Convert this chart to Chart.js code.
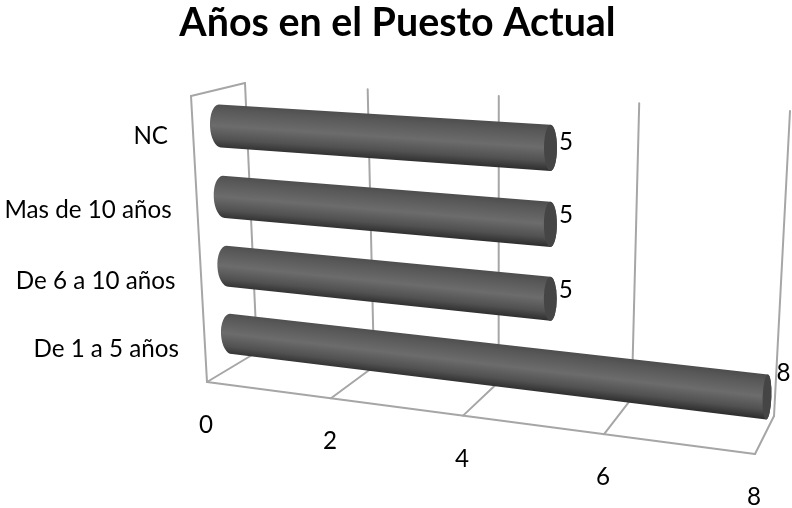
<!DOCTYPE html>
<html lang="es">
<head>
<meta charset="utf-8">
<title>Años en el Puesto Actual</title>
<script src="https://cdn.jsdelivr.net/npm/chart.js@4"></script>
<style>
  html, body { margin: 0; padding: 0; background: #fff; }
  canvas { display: block; }
</style>
</head>
<body>
<canvas id="chart" width="792" height="508"></canvas>
<script>
// Chart content
const titleText = 'Años en el Puesto Actual';
const categories = ['NC', 'Mas de 10 años', 'De 6 a 10 años', 'De 1 a 5 años'];
const values = [5, 5, 5, 8];
const axisMin = 0;
const axisMax = 8;
const axisStep = 2;

const FONT = 'Lato, "Open Sans", sans-serif';
const LABEL_FONT = '24.2px ' + FONT;
const LINE = '#a6a6a6';

// Homography from the unit square to a quad [p00, p10, p11, p01]
function quadMap(p00, p10, p11, p01) {
  const dx1 = p10[0] - p11[0], dx2 = p01[0] - p11[0], sx = p00[0] - p10[0] + p11[0] - p01[0];
  const dy1 = p10[1] - p11[1], dy2 = p01[1] - p11[1], sy = p00[1] - p10[1] + p11[1] - p01[1];
  const det = dx1 * dy2 - dx2 * dy1;
  const g = (sx * dy2 - dx2 * sy) / det;
  const h = (dx1 * sy - sx * dy1) / det;
  const a = p10[0] - p00[0] + g * p10[0], b = p01[0] - p00[0] + h * p01[0], c = p00[0];
  const d = p10[1] - p00[1] + g * p10[1], e = p01[1] - p00[1] + h * p01[1], f = p00[1];
  return (u, v) => {
    const w = g * u + h * v + 1;
    return [(a * u + b * v + c) / w, (d * u + e * v + f) / w];
  };
}

// The box the bars sit in: back wall, and the plane through the bar axes
const backWall = quadMap([245, 83], [790, 111], [774, 416], [257, 352]);
const barPlane = quadMap([220, 126], [776, 163], [767, 397], [231, 334]);
const frontTopCorner = [191, 96];

// Front edge of the floor, foreshortened towards the left
const frontLeft = [207, 382], frontRight = [755, 454], frontForeshortening = 1.14;
function frontEdge(u) {
  const f = u / (u + (1 - u) * frontForeshortening);
  return [frontLeft[0] + (frontRight[0] - frontLeft[0]) * f, frontLeft[1] + (frontRight[1] - frontLeft[1]) * f];
}

function stroke(ctx, a, b) {
  ctx.beginPath();
  ctx.moveTo(a[0], a[1]);
  ctx.lineTo(b[0], b[1]);
  ctx.stroke();
}

// Maps library pixels into the bar plane; categories run from the first centre to the last
function barPoint(chart, px, py) {
  const area = chart.chartArea;
  const u = (px - area.left) / area.width;
  const n = chart.data.labels.length;
  const v = ((py - area.top) / area.height - 0.5 / n) / ((n - 1) / n);
  return barPlane(u, v);
}

const box3d = {
  id: 'box3d',
  beforeDatasetsDraw(chart, args, opts) {
    const { ctx, chartArea: area, scales: { x, y } } = chart;
    ctx.save();
    ctx.strokeStyle = LINE;
    ctx.lineWidth = 2;
    ctx.lineCap = 'round';
    ctx.lineJoin = 'round';

    // Grid lines up the back wall and across the floor
    x.ticks.forEach(t => {
      const u = (x.getPixelForValue(t.value) - area.left) / area.width;
      stroke(ctx, backWall(u, 0), backWall(u, 1));
      stroke(ctx, backWall(u, 1), frontEdge(u));
    });

    // Outline of the side wall and the front edge of the floor
    stroke(ctx, frontLeft, frontRight);
    stroke(ctx, frontTopCorner, frontLeft);
    stroke(ctx, frontTopCorner, backWall(0, 0));

    // Value axis labels below the front edge
    ctx.fillStyle = '#000';
    ctx.font = LABEL_FONT;
    ctx.textAlign = 'center';
    ctx.textBaseline = 'alphabetic';
    x.ticks.forEach(t => {
      const u = (x.getPixelForValue(t.value) - area.left) / area.width;
      const p = frontEdge(u);
      ctx.fillText(String(t.value), p[0] - 1, p[1] + 51);
    });

    // Category labels to the left of the side wall
    ctx.textAlign = 'right';
    y.getLabels().forEach((label, i) => {
      const p = barPoint(chart, area.left, y.getPixelForValue(i));
      ctx.fillText(label, p[0] - 52, p[1] + opts.categoryDrop[i]);
    });
    ctx.restore();
  },
  beforeDatasetDraw(chart, args, opts) {
    const { ctx } = chart;
    args.meta.data.forEach((bar, i) => {
      drawCylinder(ctx, chart, bar, bar.height / 2);
      const end = barPoint(chart, bar.x, bar.y);
      ctx.save();
      ctx.fillStyle = '#000';
      ctx.font = LABEL_FONT;
      ctx.textAlign = 'center';
      ctx.textBaseline = 'alphabetic';
      ctx.fillText(String(values[i]), end[0] + opts.valueShift[i], end[1] + opts.valueDrop[i]);
      ctx.restore();
    });
    return false;
  }
};

// Cylinder with a lengthwise sheen and a flat darker end cap
function drawCylinder(ctx, chart, bar, r) {
  const x = chart.scales.x;
  const s0 = barPoint(chart, bar.base, bar.y - r), s1 = barPoint(chart, bar.base, bar.y + r);
  const e0 = barPoint(chart, bar.x, bar.y - r), e1 = barPoint(chart, bar.x, bar.y + r);
  const value = x.getValueForPixel(bar.x);
  const capStart = 10, capEnd = 10 - 0.7 * value;

  const geom = (a, b) => {
    const dx = (b[0] - a[0]) / 2, dy = (b[1] - a[1]) / 2;
    return {
      cx: (a[0] + b[0]) / 2, cy: (a[1] + b[1]) / 2,
      half: Math.hypot(dx, dy), rot: Math.atan2(dy, dx) - Math.PI / 2
    };
  };
  const gs = geom(s0, s1), ge = geom(e0, e1);

  // Sheen runs across the bar, square to its axis
  const ax = ge.cx - gs.cx, ay = ge.cy - gs.cy, len = Math.hypot(ax, ay);
  const nx = -ay / len, ny = ax / len;
  const mx = (gs.cx + ge.cx) / 2, my = (gs.cy + ge.cy) / 2;
  const h = (gs.half + ge.half) / 2;
  const grad = ctx.createLinearGradient(mx - nx * h, my - ny * h, mx + nx * h, my + ny * h);
  grad.addColorStop(0, '#4e4e4e');
  grad.addColorStop(0.14, '#585858');
  grad.addColorStop(0.5, '#6c6c6c');
  grad.addColorStop(0.8, '#515151');
  grad.addColorStop(1, '#303030');

  ctx.save();
  ctx.fillStyle = grad;
  ctx.beginPath();
  ctx.moveTo(s0[0], s0[1]);
  ctx.lineTo(e0[0], e0[1]);
  ctx.ellipse(ge.cx, ge.cy, capEnd, ge.half, ge.rot, -Math.PI / 2, Math.PI / 2, false);
  ctx.lineTo(s1[0], s1[1]);
  ctx.ellipse(gs.cx, gs.cy, capStart, gs.half, gs.rot, Math.PI / 2, Math.PI * 1.5, false);
  ctx.closePath();
  ctx.fill();

  ctx.fillStyle = '#454545';
  ctx.beginPath();
  ctx.ellipse(ge.cx, ge.cy, capEnd, ge.half, ge.rot, 0, Math.PI * 2);
  ctx.fill();
  ctx.restore();
}

new Chart(document.getElementById('chart'), {
  type: 'bar',
  data: {
    labels: categories,
    datasets: [{
      label: titleText,
      data: values,
      backgroundColor: '#595959',
      barPercentage: 0.6,
      categoryPercentage: 1
    }]
  },
  plugins: [box3d],
  options: {
    indexAxis: 'y',
    responsive: false,
    animation: false,
    layout: { padding: { left: 3 } },
    scales: {
      x: { display: false, min: axisMin, max: axisMax, ticks: { stepSize: axisStep } },
      y: { display: false }
    },
    plugins: {
      legend: { display: false },
      tooltip: { enabled: false },
      box3d: {
        categoryDrop: [18, 21, 22.7, 23],
        valueShift: [15.5, 15.5, 15.5, 16.5],
        valueDrop: [2, -1, -1, -16]
      },
      title: {
        display: true,
        text: titleText,
        color: '#000',
        font: { family: FONT, size: 39.4, weight: 'bold' },
        padding: { top: 0, bottom: 10 }
      }
    }
  }
});
</script>
</body>
</html>
